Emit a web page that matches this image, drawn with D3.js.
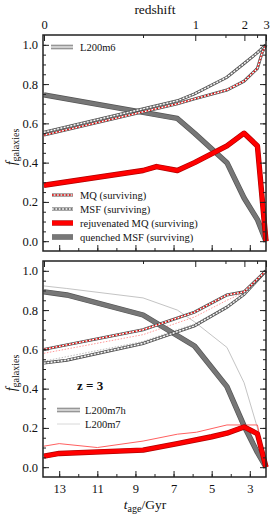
<!DOCTYPE html>
<html lang="en">
<head>
    <meta charset="UTF-8"/>
    <title>f galaxies</title>
    <script src="https://d3js.org/d3.v7.min.js"></script>
    <style>
        body { margin: 0; background: white; }
        svg text { font-family: "Liberation Serif", "Times New Roman", serif; fill: #111; }
    </style>
</head>
<body>
<div id="chart"></div>
<script>

    // ---- data: [age (Gyr), fraction] ----
    // top panel, L200m6
    const m6MQ = [[13.8, 0.54], [6.8, 0.70], [5.9, 0.725], [4.2, 0.77], [3.3, 0.815], [2.6, 0.88], [2.35, 0.96], [2.15, 1.0]];
    const m6MSF = [[13.8, 0.555], [6.8, 0.715], [5.9, 0.75], [4.2, 0.835], [3.3, 0.905], [2.6, 0.96], [2.15, 1.0]];
    const m6Rejuv = [[13.8, 0.285], [8.6, 0.36], [7.9, 0.38], [6.8, 0.36], [5.9, 0.40], [4.2, 0.485], [3.3, 0.55], [2.6, 0.485], [2.15, 0.0]];
    const m6Quench = [[13.8, 0.745], [6.8, 0.625], [5.9, 0.55], [4.2, 0.40], [3.3, 0.22], [2.6, 0.11], [2.15, 0.0]];

    // bottom panel, L200m7h (thick)
    const m7hMQ = [[13.8, 0.60], [8.6, 0.70], [5.9, 0.79], [4.2, 0.877], [3.3, 0.893], [2.15, 1.0]];
    const m7hMSF = [[13.8, 0.53], [12.6, 0.545], [8.6, 0.63], [5.9, 0.72], [4.2, 0.815], [3.3, 0.88], [2.15, 1.0]];
    const m7hRejuv = [[13.8, 0.056], [13.0, 0.07], [8.6, 0.087], [6.8, 0.12], [5.0, 0.155], [4.2, 0.173], [3.3, 0.205], [2.6, 0.17], [2.15, 0.0]];
    const m7hQuench = [[13.8, 0.893], [12.6, 0.877], [8.6, 0.775], [5.9, 0.617], [4.2, 0.41], [3.3, 0.21], [2.6, 0.075], [2.15, 0.0]];

    // bottom panel, L200m7 (thin)
    const m7MQ = [[13.8, 0.58], [8.6, 0.675], [5.9, 0.765], [4.2, 0.85], [3.3, 0.89], [2.15, 1.0]];
    const m7MSF = [[13.8, 0.54], [8.6, 0.64], [5.9, 0.73], [4.2, 0.82], [3.3, 0.88], [2.15, 1.0]];
    const m7Rejuv = [[13.8, 0.107], [13.0, 0.12], [11.0, 0.10], [8.6, 0.133], [6.8, 0.168], [5.8, 0.178], [4.2, 0.215], [2.6, 0.215], [2.15, 0.0]];
    const m7Quench = [[13.8, 0.923], [12.6, 0.91], [8.6, 0.862], [6.8, 0.80], [5.9, 0.74], [4.2, 0.61], [3.3, 0.43], [2.6, 0.2], [2.15, 0.0]];

    // ticks
    const ageMajor = [13, 11, 9, 7, 5, 3];
    const ageMinor = [13, 12, 11, 10, 9, 8, 7, 6, 5, 4, 3];
    const zMajor = [0, 1, 2, 3];
    const zMinor = [0.5, 1.5, 2.5];
    const fMajor = [0, 0.2, 0.4, 0.6, 0.8, 1.0];
    const fMinor = d3.range(0, 21).map(i => i * 0.05);

    const seriesLabels = ["MQ (surviving)", "MSF (surviving)", "rejuvenated MQ (surviving)", "quenched MSF (surviving)"];

    const FONT = "'Liberation Serif', 'Times New Roman', serif";

    // flat LCDM age of the universe at redshift z (Gyr), for the top axis
    function ageAtZ(z) {
        const h0 = 67.7, om = 0.31, ol = 0.69;
        const tH = 977.8 / h0;
        return 2 / 3 * tH / Math.sqrt(ol) * Math.asinh(Math.sqrt(ol / om) * Math.pow(1 + z, -1.5));
    }

    const W = 274, H = 517;
    const left = 43, right = 266;
    const panels = [{top: 35, bottom: 251}, {top: 261, bottom: 477}];

    const svg = d3.select("#chart").append("svg")
        .attr("width", W)
        .attr("height", H)
        .attr("font-family", FONT);

    const x = d3.scaleLinear().domain([13.85, 2.15]).range([left, right]);

    const line = (y) => d3.line().x(d => x(d[0])).y(d => y(d[1]));

    // line styles
    function drawDotted(g, y, data, colour, inner) {
        g.append("path").datum(data).attr("d", line(y))
            .attr("fill", "none").attr("stroke", "#505050").attr("stroke-width", 3);
        g.append("path").datum(data).attr("d", line(y))
            .attr("fill", "none").attr("stroke", inner).attr("stroke-width", 1.4);
        g.append("path").datum(data).attr("d", line(y))
            .attr("fill", "none").attr("stroke", colour).attr("stroke-width", 1.4)
            .attr("stroke-dasharray", "1.7,1.7");
    }

    function drawThick(g, y, data, edge, fill) {
        g.append("path").datum(data).attr("d", line(y))
            .attr("fill", "none").attr("stroke", edge).attr("stroke-width", 5.4)
            .attr("stroke-linejoin", "round");
        g.append("path").datum(data).attr("d", line(y))
            .attr("fill", "none").attr("stroke", fill).attr("stroke-width", 4)
            .attr("stroke-linejoin", "round");
    }

    function drawThin(g, y, data, colour, dash) {
        const p = g.append("path").datum(data).attr("d", line(y))
            .attr("fill", "none").attr("stroke", colour).attr("stroke-width", 1);
        if (dash) p.attr("stroke-dasharray", dash);
    }

    function legendSwatch(g, kind, x0, x1, yy) {
        const seg = [[x0, yy], [x1, yy]];
        const path = d3.line();
        if (kind === "MQ" || kind === "MSF") {
            g.append("path").attr("d", path(seg)).attr("stroke", "#505050").attr("stroke-width", 3);
            g.append("path").attr("d", path(seg)).attr("stroke", kind === "MQ" ? "white" : "#8a8a8a").attr("stroke-width", 1.4);
            g.append("path").attr("d", path(seg)).attr("stroke", kind === "MQ" ? "#e00000" : "white")
                .attr("stroke-width", 1.4).attr("stroke-dasharray", "1.7,1.7");
        } else if (kind === "rejuv") {
            g.append("path").attr("d", path(seg)).attr("stroke", "#b00000").attr("stroke-width", 5.4);
            g.append("path").attr("d", path(seg)).attr("stroke", "#ff0000").attr("stroke-width", 4);
        } else if (kind === "quench") {
            g.append("path").attr("d", path(seg)).attr("stroke", "#555").attr("stroke-width", 5.4);
            g.append("path").attr("d", path(seg)).attr("stroke", "#777").attr("stroke-width", 4);
        } else if (kind === "sim") {
            g.append("path").attr("d", path(seg)).attr("stroke", "#888").attr("stroke-width", 4.6);
            g.append("path").attr("d", path(seg)).attr("stroke", "#d0d0d0").attr("stroke-width", 2.4);
        } else {
            g.append("path").attr("d", path(seg)).attr("stroke", "#d8d8d8").attr("stroke-width", 1);
        }
    }

    panels.forEach((p, i) => {
        const y = d3.scaleLinear().domain([-0.05, 1.05]).range([p.bottom, p.top]);
        const g = svg.append("g");

        // lines
        if (i === 0) {
            drawThick(g, y, m6Quench, "#555", "#777");
            drawThick(g, y, m6Rejuv, "#b00000", "#ff0000");
            drawDotted(g, y, m6MSF, "white", "#8a8a8a");
            drawDotted(g, y, m6MQ, "#e00000", "white");
        } else {
            drawThin(g, y, m7Quench, "#c4c4c4");
            drawThin(g, y, m7Rejuv, "#ff6060");
            drawThin(g, y, m7MSF, "#bdbdbd", "1.5,1.5");
            drawThin(g, y, m7MQ, "#ff9a9a", "1.5,1.5");
            drawThick(g, y, m7hQuench, "#555", "#777");
            drawThick(g, y, m7hRejuv, "#b00000", "#ff0000");
            drawDotted(g, y, m7hMSF, "white", "#8a8a8a");
            drawDotted(g, y, m7hMQ, "#e00000", "white");
        }

        // axes, ticks pointing inwards
        const axes = svg.append("g").attr("class", "axes");
        const style = sel => {
            sel.attr("font-family", FONT).attr("font-size", 12.5);
            sel.select(".domain").remove();
            sel.selectAll("line").attr("stroke", "#222").attr("stroke-width", 1);
            sel.selectAll("text").attr("fill", "#111");
        };

        axes.append("g").attr("transform", `translate(${left},0)`)
            .call(d3.axisLeft(y).tickValues(fMajor).tickSize(-6).tickPadding(5).tickFormat(d3.format(".1f")))
            .call(style);
        axes.append("g").attr("transform", `translate(${left},0)`)
            .call(d3.axisLeft(y).tickValues(fMinor).tickSize(-3).tickFormat(""))
            .call(style);
        axes.append("g").attr("transform", `translate(${right},0)`)
            .call(d3.axisRight(y).tickValues(fMajor).tickSize(-6).tickFormat(""))
            .call(style);
        axes.append("g").attr("transform", `translate(${right},0)`)
            .call(d3.axisRight(y).tickValues(fMinor).tickSize(-3).tickFormat(""))
            .call(style);

        axes.append("g").attr("transform", `translate(0,${p.bottom})`)
            .call(d3.axisBottom(x).tickValues(ageMajor).tickSize(-6).tickPadding(7)
                .tickFormat(i === 1 ? d3.format("d") : ""))
            .call(style);
        axes.append("g").attr("transform", `translate(0,${p.bottom})`)
            .call(d3.axisBottom(x).tickValues(ageMinor).tickSize(-3).tickFormat(""))
            .call(style);

        axes.append("g").attr("transform", `translate(0,${p.top})`)
            .call(d3.axisTop(x).tickValues(zMajor.map(ageAtZ)).tickSize(-6).tickPadding(6)
                .tickFormat((d, k) => i === 0 ? zMajor[k] : ""))
            .call(style);
        axes.append("g").attr("transform", `translate(0,${p.top})`)
            .call(d3.axisTop(x).tickValues(zMinor.map(ageAtZ)).tickSize(-3).tickFormat(""))
            .call(style);

        // frame
        axes.append("rect")
            .attr("x", left).attr("y", p.top)
            .attr("width", right - left).attr("height", p.bottom - p.top)
            .attr("fill", "none").attr("stroke", "#222").attr("stroke-width", 1.5);

        // y label
        const yl = svg.append("text")
            .attr("transform", `translate(16,${(p.top + p.bottom) / 2 + 4}) rotate(-90)`)
            .attr("text-anchor", "middle")
            .style("font-size", "14px");
        yl.append("tspan").attr("font-style", "italic").text("f");
        yl.append("tspan").attr("dy", 3).style("font-size", "10px").text("galaxies");

        // legends
        const lg = svg.append("g");
        if (i === 0) {
            legendSwatch(lg, "sim", 51, 73, 47);
            lg.append("text").attr("x", 80).attr("y", 50.5).style("font-size", "10.5px").text("L200m6");
            const kinds = ["MQ", "MSF", "rejuv", "quench"];
            const rowsY = [195, 209, 223, 237];
            kinds.forEach((k, j) => {
                legendSwatch(lg, k, 52, 73, rowsY[j]);
                lg.append("text").attr("x", 80).attr("y", rowsY[j] + 3.5)
                    .style("font-size", "10.5px").text(seriesLabels[j]);
            });
        } else {
            lg.append("text").attr("x", 77).attr("y", 390)
                .style("font-size", "13px").style("font-weight", "bold").text("z = 3");
            legendSwatch(lg, "sim", 57, 80, 410);
            lg.append("text").attr("x", 85).attr("y", 413.5).style("font-size", "10.5px").text("L200m7h");
            legendSwatch(lg, "thin", 57, 80, 424);
            lg.append("text").attr("x", 85).attr("y", 427.5).style("font-size", "10.5px").text("L200m7");
        }
    });

    // top title and x label
    svg.append("text")
        .attr("x", 155).attr("y", 14)
        .attr("text-anchor", "middle")
        .style("font-size", "13.5px")
        .text("redshift");

    const xl = svg.append("text")
        .attr("x", 145).attr("y", 509)
        .attr("text-anchor", "middle")
        .style("font-size", "13.5px");
    xl.append("tspan").attr("font-style", "italic").text("t");
    xl.append("tspan").attr("dy", 3).style("font-size", "10px").text("age");
    xl.append("tspan").attr("dy", -3).text("/Gyr");

</script>
</body>
</html>
